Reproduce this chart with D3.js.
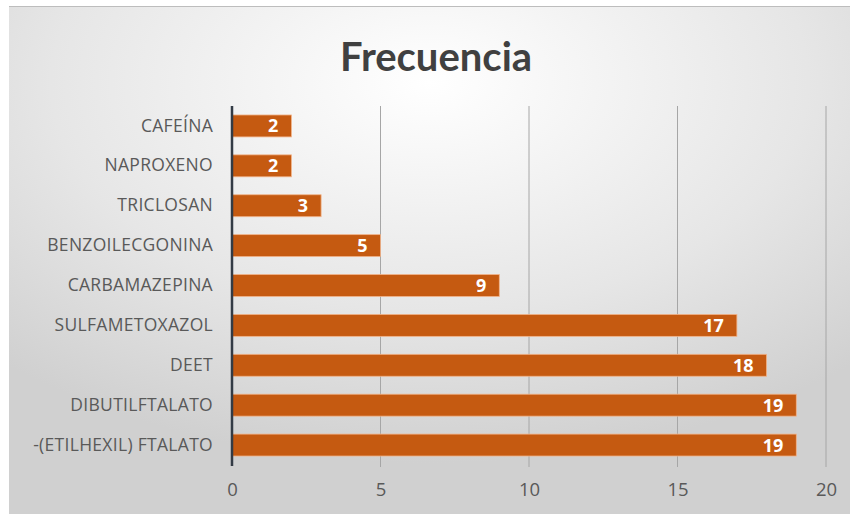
<!DOCTYPE html>
<html><head><meta charset="utf-8">
<script src="https://cdn.jsdelivr.net/npm/d3@7"></script>
<style>body{margin:0;background:#fff;}svg{display:block;}</style>
</head><body>
<script>
const categories = ["CAFEÍNA","NAPROXENO","TRICLOSAN","BENZOILECGONINA","CARBAMAZEPINA","SULFAMETOXAZOL","DEET","DIBUTILFTALATO","-(ETILHEXIL) FTALATO"];
const values = [2,2,3,5,9,17,18,19,19];
const xTicks = [0,5,10,15,20];
const title = "Frecuencia";

const W = 850, H = 514;
const svg = d3.select("body").append("svg").attr("width", W).attr("height", H);
const defs = svg.append("defs");
const rg = defs.append("radialGradient").attr("id","bg")
  .attr("cx","50%").attr("cy","15%").attr("r","75%");
rg.append("stop").attr("offset","0%").attr("stop-color","#ffffff");
rg.append("stop").attr("offset","60%").attr("stop-color","#e6e6e6");
rg.append("stop").attr("offset","100%").attr("stop-color","#d0d0d0");

svg.append("rect").attr("x",9).attr("y",6).attr("width",W-9).attr("height",H-6).attr("fill","url(#bg)");
svg.append("line").attr("x1",9).attr("x2",W).attr("y1",6.5).attr("y2",6.5).attr("stroke","#bdbdbd");

const font = "'Open Sans', sans-serif";

svg.append("text").attr("x",436).attr("y",71).attr("text-anchor","middle")
  .attr("font-family","Lato, sans-serif").attr("font-weight","bold").attr("font-size",40).attr("fill","#404040").text(title);

const x = d3.scaleLinear().domain([0,20]).range([232,826]);
const y = d3.scaleBand().domain(categories).range([106,465]).paddingInner(0.45).paddingOuter(0.225);

// gridlines
svg.append("g").selectAll("line").data(xTicks.slice(1)).join("line")
  .attr("x1",d=>x(d)).attr("x2",d=>x(d)).attr("y1",106).attr("y2",467)
  .attr("stroke","#a6a6a6").attr("stroke-width",1);

// bars
svg.append("g").selectAll("rect").data(values).join("rect")
  .attr("x",x(0)).attr("y",(d,i)=>y(categories[i]))
  .attr("width",d=>x(d)-x(0)).attr("height",y.bandwidth())
  .attr("fill","#C55A11").attr("stroke","#f2b48a").attr("stroke-width",0.8);

// value labels
svg.append("g").selectAll("text").data(values).join("text")
  .attr("x",d=>x(d)-13).attr("y",(d,i)=>y(categories[i])+y.bandwidth()/2)
  .attr("dy","0.36em").attr("text-anchor","end")
  .attr("font-family",font).attr("font-weight","bold").attr("font-size",18).attr("fill","#ffffff")
  .text(d=>d);

// y axis line
svg.append("line").attr("x1",x(0)).attr("x2",x(0)).attr("y1",106).attr("y2",466)
  .attr("stroke","#333b45").attr("stroke-width",2.5);

// x axis (labels only)
const xa = svg.append("g").attr("transform","translate(0,483)")
  .call(d3.axisBottom(x).tickValues(xTicks).tickSize(0).tickPadding(0));
xa.select(".domain").remove();
xa.selectAll("text").attr("font-family",font).attr("font-size",18.5).attr("fill","#595959");

// y axis labels
const ya = svg.append("g").attr("transform",`translate(${x(0)-19},0)`)
  .call(d3.axisLeft(y).tickSize(0).tickPadding(0));
ya.select(".domain").remove();
ya.selectAll("text").attr("font-family",font).attr("font-size",17.5).attr("letter-spacing",0.3).attr("fill","#595959");
</script>
</body></html>
